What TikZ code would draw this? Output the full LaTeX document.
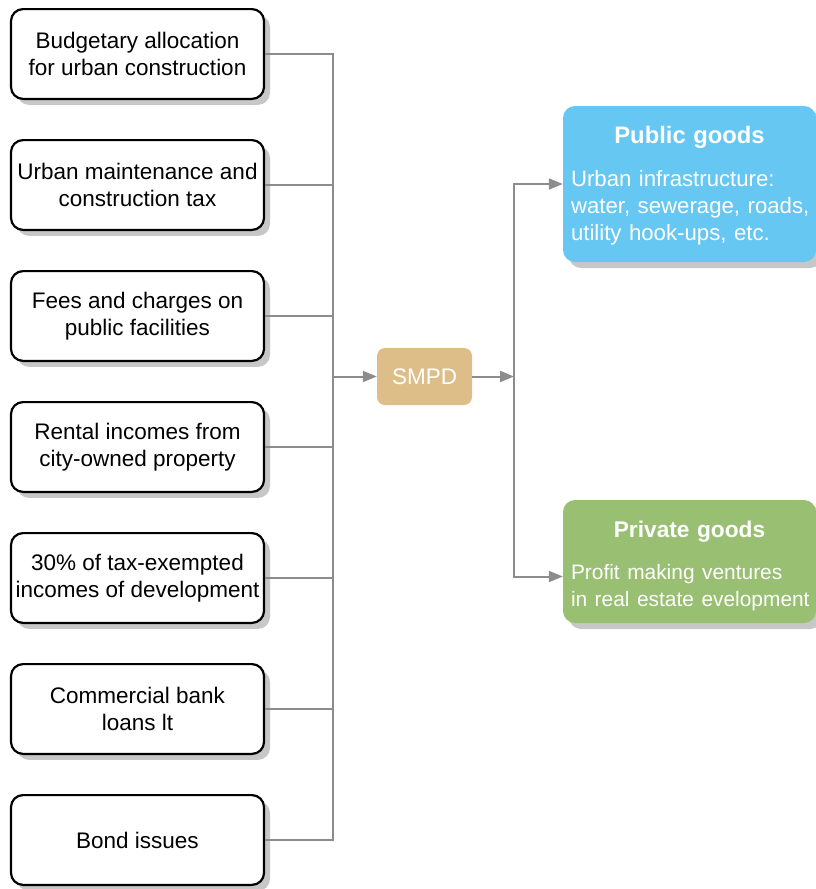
\documentclass[tikz,border=0pt]{standalone}
\usepackage{fontspec}
\setmainfont{Liberation Sans}
\usetikzlibrary{
  shadows,
  arrows.meta,
  positioning
}
\definecolor{smpdtan}{HTML}{DDBE88}
\definecolor{pubblue}{HTML}{66C7F2}
\definecolor{privgreen}{HTML}{98BF72}
\definecolor{connGray}{HTML}{8C8C8C}

\begin{document}
\begin{tikzpicture}[x=1pt, y=1pt,
  shade/.style={drop shadow={shadow xshift=6pt, shadow yshift=-6pt, fill=black!22, opacity=1}},
  source/.style={rectangle, rounded corners=12pt, draw=black, line width=2.2pt, fill=white, shade,
    minimum width=253pt, minimum height=89.8pt, align=center, font=\fontsize{22.5}{27}\selectfont},
  goods/.style={rectangle, rounded corners=12pt, text=white, shade, minimum width=253pt,
    text width=237pt, inner xsep=8pt, font=\fontsize{22.5}{27}\selectfont},
  conn/.style={draw=connGray, line width=2pt},
  >={Triangle[length=14pt,width=11pt]}]
\useasboundingbox (0,0) rectangle (816,-889);

% funding sources
\node[source] (budget) at (137.5,-54) {Budgetary allocation\\for urban construction};
\node[source, below=39pt of budget] (tax) {Urban maintenance and\\construction tax};
\node[source, below=39pt of tax] (fees) {Fees and charges on\\public facilities};
\node[source, below=39pt of fees] (rent) {Rental incomes from\\city-owned property};
\node[source, below=39pt of rent] (exempt) {30\% of tax-exempted\\incomes of development};
\node[source, below=39pt of exempt] (loans) {Commercial bank\\loans lt};
\node[source, below=39pt of loans] (bonds) {Bond issues};

% SMPD and outputs
\node[rectangle, rounded corners=8pt, fill=smpdtan, text=white, minimum width=95pt, minimum height=57pt,
  font=\fontsize{22.5}{27}\selectfont] (smpd) at (424.5,-376.5) {SMPD};
\node[goods, fill=pubblue, minimum height=156pt] (public) at (689.5,-184)
  {{\centering\bfseries\fontsize{23.8}{27}\selectfont\rule{0pt}{21pt}Public goods\par}\vspace{16pt}\raggedright
   \fontsize{22.2}{27}\selectfont
   \mbox{Urban infrastructure:}\\\mbox{water, sewerage, roads,}\\\mbox{utility hook-ups, etc.}};
\node[goods, fill=privgreen, minimum height=123pt] (private) at (689.5,-561.5)
  {{\centering\bfseries\fontsize{22.7}{27}\selectfont\rule{0pt}{25pt}Private goods\par}\vspace{16pt}\raggedright
   \fontsize{20.9}{26.5}\selectfont
   \mbox{Profit making ventures}\\\mbox{in real estate evelopment}};

\coordinate (inJoin) at (333,-376.5);
\coordinate (outJoin) at (514,-376.5);

\foreach \src in {budget,tax,fees,rent,exempt,loans,bonds}
  \draw[conn] (\src.east) -| (inJoin);
\draw[conn,->] (inJoin) -- (smpd);
\draw[conn,->] (smpd) -- (outJoin);
\draw[conn,->] (outJoin) |- (public.west);
\draw[conn,->] (outJoin) |- ([yshift=-15pt]private.west);
\end{tikzpicture}
\end{document}
